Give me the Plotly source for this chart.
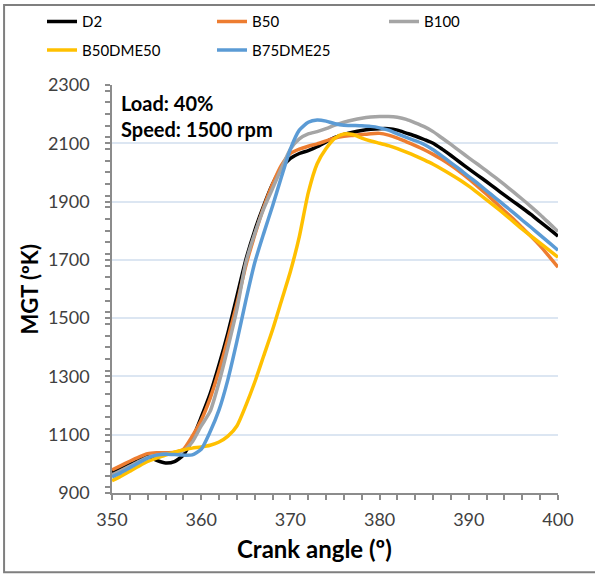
import plotly.graph_objects as go

# Crank angle (degrees) and mean gas temperature (K) for each fuel
crank_angle = list(range(350, 401))

d2 = [972, 985, 998, 1012, 1025, 1012, 1003, 1008, 1030, 1085,
      1160, 1240, 1340, 1450, 1575, 1700, 1800, 1885, 1960, 2015,
      2048, 2065, 2075, 2088, 2105, 2120, 2130, 2138, 2144, 2148,
      2150, 2150, 2145, 2135, 2125, 2113, 2100, 2080, 2058, 2035,
      2012, 1990, 1968, 1945, 1922, 1900, 1878, 1855, 1830, 1806,
      1781]

b50 = [979, 994, 1009, 1023, 1035, 1038, 1038, 1040, 1050, 1095,
       1150, 1225, 1320, 1430, 1550, 1680, 1785, 1880, 1960, 2025,
       2065, 2080, 2090, 2098, 2108, 2118, 2124, 2127, 2130, 2133,
       2134, 2128, 2118, 2105, 2092, 2078, 2062, 2044, 2024, 2002,
       1978, 1952, 1925, 1897, 1868, 1840, 1810, 1780, 1748, 1712,
       1675]

b100 = [962, 977, 992, 1008, 1022, 1030, 1034, 1037, 1045, 1075,
        1130, 1180, 1280, 1400, 1530, 1690, 1790, 1875, 1945, 2015,
        2080, 2115, 2132, 2140, 2150, 2162, 2172, 2180, 2186, 2190,
        2192, 2192, 2189, 2182, 2170, 2157, 2140, 2118, 2096, 2073,
        2050, 2028, 2005, 1982, 1958, 1933, 1908, 1882, 1855, 1826,
        1797]

b50dme50 = [942, 958, 975, 992, 1008, 1020, 1030, 1040, 1048, 1054,
            1058, 1064, 1075, 1095, 1130, 1200, 1280, 1370, 1460, 1560,
            1660, 1780, 1930, 2030, 2082, 2118, 2132, 2130, 2118, 2108,
            2100, 2092, 2082, 2070, 2057, 2043, 2028, 2011, 1993, 1974,
            1953, 1930, 1906, 1882, 1857, 1831, 1805, 1781, 1757, 1733,
            1709]

b75dme25 = [955, 970, 987, 1004, 1020, 1030, 1033, 1032, 1030, 1031,
            1050, 1110, 1185, 1290, 1420, 1560, 1690, 1790, 1885, 1985,
            2080, 2145, 2172, 2180, 2176, 2167, 2162, 2161, 2160, 2158,
            2153, 2145, 2132, 2120, 2109, 2096, 2078, 2056, 2033, 2010,
            1986, 1962, 1937, 1912, 1887, 1862, 1836, 1811, 1785, 1759,
            1733]

# (name, values, colour, legend column)
series = [
    ("D2", d2, "#000000", "legend"),
    ("B50", b50, "#ED7D31", "legend2"),
    ("B100", b100, "#A5A5A5", "legend3"),
    ("B50DME50", b50dme50, "#FFC000", "legend"),
    ("B75DME25", b75dme25, "#5B9BD5", "legend2"),
]

FONT = "Lato, 'Liberation Sans', sans-serif"
AXIS_GREY = "#8C8C8C"

fig = go.Figure()
for name, values, color, leg in series:
    fig.add_trace(go.Scatter(
        x=crank_angle, y=values, name=name, mode="lines",
        legend=leg, legendgroup=name,
        line=dict(color=color, width=3.5, shape="spline", smoothing=0.6),
    ))

axis_common = dict(
    showline=True, linecolor=AXIS_GREY, linewidth=1.5,
    ticks="outside", tickcolor=AXIS_GREY, ticklen=5, tickwidth=1.5,
    tickfont=dict(family=FONT, size=18, color="#404040"),
    zeroline=False,
)

fig.update_xaxes(
    range=[350, 400], tick0=350, dtick=10, showgrid=False,
    minor=dict(dtick=2, ticks="outside", ticklen=5, tickcolor=AXIS_GREY, tickwidth=1.5),
    ticklabelstandoff=5,
    **axis_common,
)
fig.update_yaxes(
    range=[900, 2300], tick0=900, dtick=200, showgrid=True, gridcolor="#DCE6F2", gridwidth=1.5,
    minor=dict(dtick=40, ticks="outside", ticklen=5, tickcolor=AXIS_GREY, tickwidth=1.5,
               showgrid=False),
    ticklabelstandoff=12,
    **axis_common,
)

# axis titles
fig.add_annotation(
    xref="paper", yref="paper", x=0.455, y=-0.135, xanchor="center", yanchor="middle",
    text="<b>Crank angle (º)</b>", showarrow=False,
    font=dict(family=FONT, size=24, color="#000000"),
)
fig.add_annotation(
    xref="paper", yref="paper", x=-0.187, y=0.5, xanchor="center", yanchor="middle",
    text="<b>MGT (ºK)</b>", showarrow=False, textangle=-90,
    font=dict(family=FONT, size=22, color="#000000"),
)

fig.add_annotation(
    xref="paper", yref="paper", x=0.016, y=0.99, xanchor="left", yanchor="top",
    text="<b>Load: 40%</b><br><b>Speed: 1500 rpm</b>", showarrow=False, align="left",
    font=dict(family=FONT, size=20, color="#000000"),
)

# outer frame
fig.add_shape(
    type="rect", xref="paper", yref="paper",
    x0=-0.242, x1=1.1, y0=-0.194, y1=1.196,
    line=dict(color="#7F7F7F", width=2), fillcolor="rgba(0,0,0,0)", layer="below",
)

legend_style = dict(
    orientation="v", xanchor="left", yanchor="top",
    xref="container", yref="container", y=0.991,
    tracegroupgap=6,
    font=dict(family=FONT, size=15, color="#000000"),
    bgcolor="rgba(0,0,0,0)",
)

fig.update_layout(
    width=595, height=574,
    margin=dict(l=112, r=37, t=85, b=81, autoexpand=False),
    paper_bgcolor="white", plot_bgcolor="white",
    showlegend=True,
    legend=dict(x=0.0706, **legend_style),
    legend2=dict(x=0.3563, **legend_style),
    legend3=dict(x=0.6454, **legend_style),
)

fig.write_html("out.html")
